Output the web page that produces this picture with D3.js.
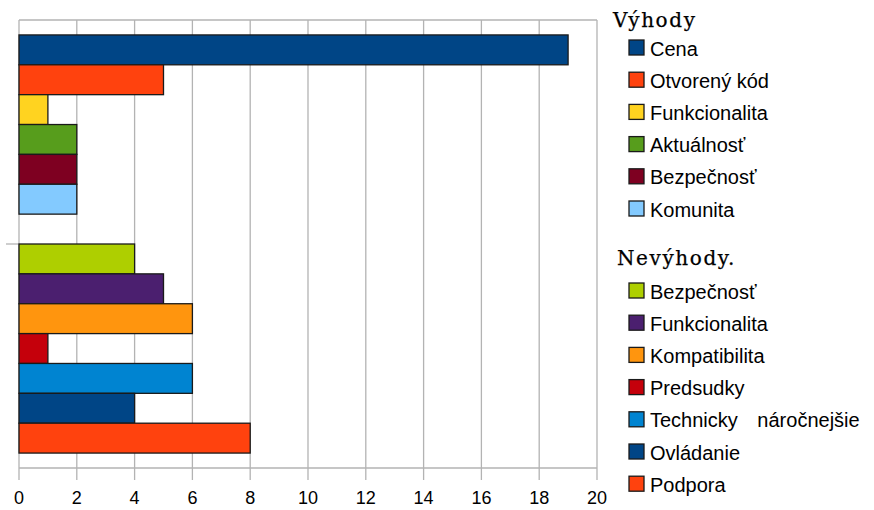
<!DOCTYPE html>
<html><head><meta charset="utf-8">
<script src="https://cdn.jsdelivr.net/npm/d3@7"></script>
<style>body{margin:0;background:#fff}svg{display:block}</style>
</head><body>
<svg id="c" width="874" height="510"></svg>
<script>
const groups = ["Výhody", "Nevýhody."];
const prosLabels = ["Cena", "Otvorený kód", "Funkcionalita", "Aktuálnosť", "Bezpečnosť", "Komunita"];
const prosValues = [19, 5, 1, 2, 2, 2];
const prosColors = ["#004586", "#ff420e", "#ffd320", "#579d1c", "#7e0021", "#83caff"];
const consLabels = ["Bezpečnosť", "Funkcionalita", "Kompatibilita", "Predsudky", "Technicky náročnejšie", "Ovládanie", "Podpora"];
const consValues = [4, 5, 6, 1, 6, 4, 8];
const consColors = ["#aecf00", "#4b1f6f", "#ff950e", "#c5000b", "#0084d1", "#004586", "#ff420e"];
const xTicks = [0, 2, 4, 6, 8, 10, 12, 14, 16, 18, 20];

(function () {
const svg = d3.select("#c");
const pL = 19, pR = 597, pT = 20, pB = 468;
const x = d3.scaleLinear().domain([0, 20]).range([pL, pR]);
const y = d3.scaleLinear().domain([0, 15]).range([pT, pB]);

const bars = [];
prosValues.forEach((v, i) => bars.push({v, c: prosColors[i], s: 0.5 + i}));
consValues.forEach((v, i) => bars.push({v, c: consColors[i], s: 7.5 + i}));

const grid = "#b3b3b3";
svg.append("g").selectAll("line").data(xTicks).join("line")
  .attr("x1", d => x(d)).attr("x2", d => x(d))
  .attr("y1", pT).attr("y2", pB + 12)
  .attr("stroke", grid).attr("stroke-width", 1.3);
svg.append("line").attr("x1", pL).attr("x2", pR).attr("y1", pT).attr("y2", pT)
  .attr("stroke", grid).attr("stroke-width", 1.3);
svg.append("line").attr("x1", pL).attr("x2", pR).attr("y1", pB).attr("y2", pB)
  .attr("stroke", grid).attr("stroke-width", 1.3);
svg.append("line").attr("x1", 6).attr("x2", pL).attr("y1", y(7.5)).attr("y2", y(7.5))
  .attr("stroke", grid).attr("stroke-width", 1.3);

svg.append("g").selectAll("rect").data(bars).join("rect")
  .attr("x", x(0)).attr("y", d => y(d.s))
  .attr("width", d => x(d.v) - x(0)).attr("height", y(1) - y(0))
  .attr("fill", d => d.c).attr("stroke", "#1a1a1a").attr("stroke-width", 1.3);

svg.append("g").selectAll("text").data(xTicks).join("text")
  .attr("x", d => x(d)).attr("y", 504)
  .attr("text-anchor", "middle")
  .attr("font-family", "Liberation Sans, Arial, sans-serif").attr("font-size", 18)
  .attr("fill", "#000").text(d => d);

const lg = svg.append("g");
function legendBlock(title, tx, ty, labels, colors, y0) {
  lg.append("text").attr("x", tx).attr("y", ty)
    .style("font-family", "'DejaVu Serif', serif").attr("font-size", 20)
    .attr("letter-spacing", 1.6).attr("stroke", "#000").attr("stroke-width", 0.25)
    .attr("fill", "#000").text(title);
  labels.forEach((l, i) => {
    const cy = y0 + i * 32.2;
    lg.append("rect").attr("x", 629).attr("y", cy - 8).attr("width", 15).attr("height", 15)
      .attr("fill", colors[i]).attr("stroke", "#1a1a1a").attr("stroke-width", 1.3);
    lg.append("text").attr("x", 650).attr("y", cy + 7.5)
      .attr("font-family", "Liberation Sans, Arial, sans-serif").attr("font-size", 20)
      .attr("fill", "#000")
      .attr("word-spacing", l.length > 16 ? 14 : 0).text(l);
  });
}
legendBlock(groups[0], 613, 27, prosLabels, prosColors, 48);
legendBlock(groups[1], 617, 265, consLabels, consColors, 291);
})();
</script>
</body></html>
